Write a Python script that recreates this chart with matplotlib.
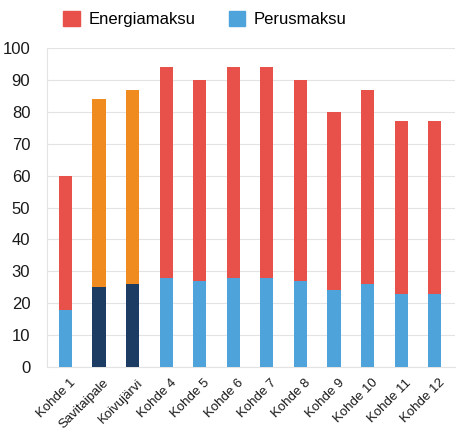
import matplotlib
matplotlib.use("Agg")
import matplotlib.pyplot as plt
import matplotlib.transforms as mtransforms
from matplotlib.patches import Patch

plt.rcParams['font.family'] = ['Liberation Sans', 'DejaVu Sans']

categories = ["Kohde 1", "Savitaipale", "Koivujärvi", "Kohde 4", "Kohde 5", "Kohde 6",
              "Kohde 7", "Kohde 8", "Kohde 9", "Kohde 10", "Kohde 11", "Kohde 12"]
perusmaksu = [18, 25, 26, 28, 27, 28, 28, 27, 24, 26, 23, 23]
energiamaksu = [42, 59, 61, 66, 63, 66, 66, 63, 56, 61, 54, 54]
highlight = ["Savitaipale", "Koivujärvi"]
yticks = list(range(0, 101, 10))

RED = "#E8514A"
BLUE = "#4FA3DB"
NAVY = "#1D3C63"
ORANGE = "#F08B1F"

fig = plt.figure(figsize=(4.6, 4.3), dpi=100)
ax = fig.add_axes([0.102, 0.1465, 0.887, 0.7415])

x = list(range(len(categories)))
base_colors = [NAVY if c in highlight else BLUE for c in categories]
top_colors = [ORANGE if c in highlight else RED for c in categories]
w = 0.39
ax.bar(x, perusmaksu, width=w, color=base_colors, zorder=3)
ax.bar(x, energiamaksu, width=w, bottom=perusmaksu, color=top_colors, zorder=3)

ax.set_xlim(-0.55, 11.6)
ax.set_ylim(0, 100)
ax.set_yticks(yticks)
ax.set_yticklabels([str(t) for t in yticks], fontsize=12, color="#1a1a1a")
ax.set_xticks(x)
ax.set_xticklabels(categories, rotation=45, ha="right", rotation_mode="anchor",
                   fontsize=9.5, color="#1a1a1a")
ax.tick_params(axis="y", length=0, pad=12)
ax.tick_params(axis="x", length=0, pad=7)
offset = mtransforms.ScaledTranslation(4 / 100, 0, fig.dpi_scale_trans)
for lbl in ax.get_xticklabels():
    lbl.set_transform(lbl.get_transform() + offset)
ax.grid(axis="y", color="#E3E3E3", linewidth=0.8, zorder=0)
for s in ["top", "right"]:
    ax.spines[s].set_visible(False)
ax.spines["left"].set_color("#E3E3E3")
ax.spines["bottom"].set_color("#E3E3E3")

handles = [Patch(color=RED, label="Energiamaksu"), Patch(color=BLUE, label="Perusmaksu")]
fig.legend(handles=handles, loc="upper left", bbox_to_anchor=(0.105, 1.01), ncol=2,
           frameon=False, fontsize=12, handlelength=1.0, handleheight=1.0,
           columnspacing=2.0, handletextpad=0.5)

fig.savefig("out.png", dpi=100)
